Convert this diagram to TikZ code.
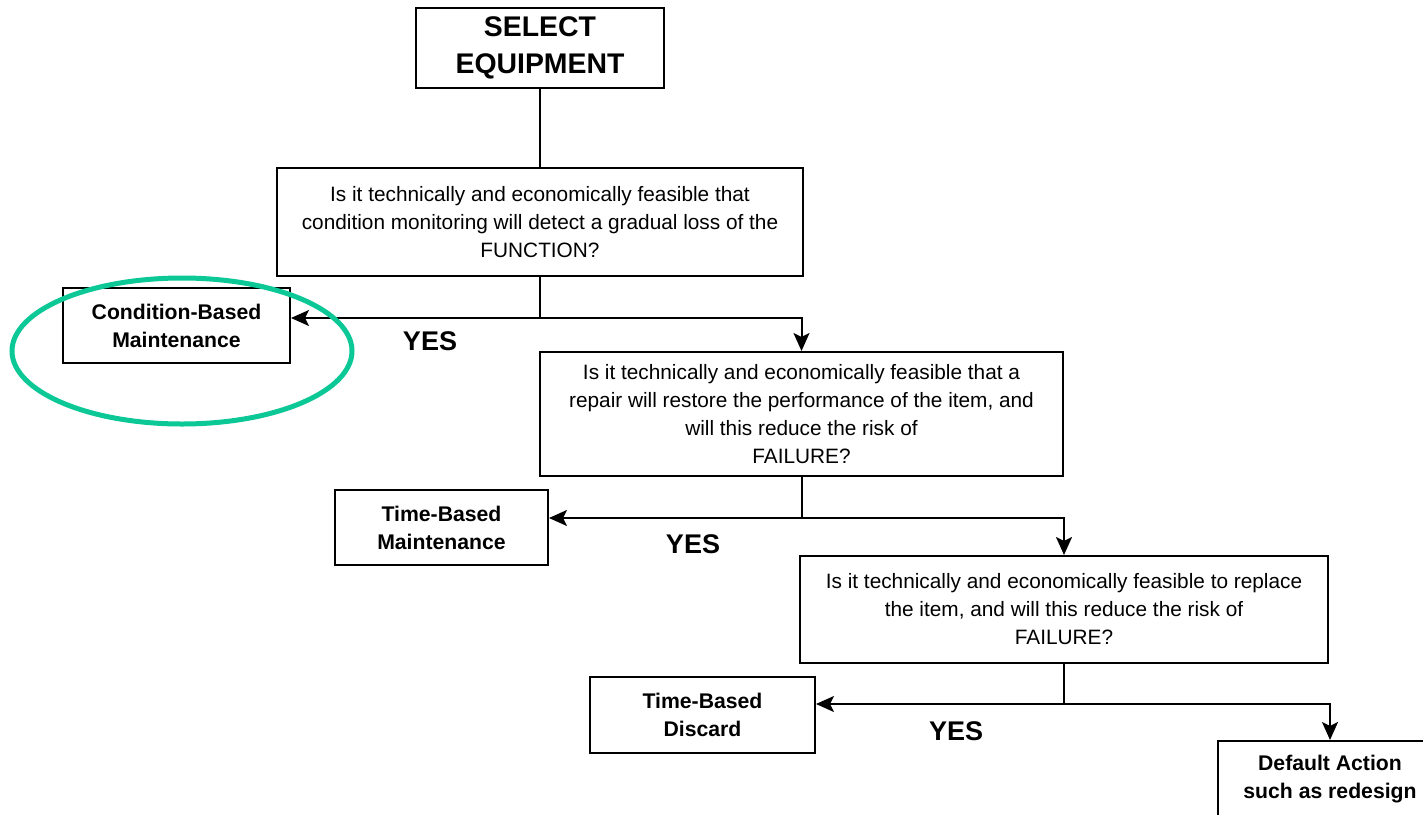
\documentclass[tikz,border=0pt]{standalone}
\usepackage{fontspec}
\setmainfont{Liberation Sans}
\usetikzlibrary{arrows.meta, positioning}
\definecolor{markgreen}{RGB}{12,200,150}
\tikzset{
  box/.style={rectangle, draw, line width=1pt, align=center, inner sep=0pt, fill=white},
  titlebox/.style={box, font=\fontsize{14.2}{18.5}\selectfont\bfseries},
  qbox/.style={box, font=\fontsize{10.4}{14}\selectfont},
  actbox/.style={box, font=\fontsize{10.6}{14}\selectfont\bfseries},
  yeslabel/.style={font=\fontsize{13.5}{16}\selectfont\bfseries},
  link/.style={line width=1pt},
  arrow/.style={-{Stealth[length=9pt, width=8pt, inset=2pt]}, line width=1pt},
  hilite/.style={draw=markgreen, line width=2.5pt},
}
\begin{document}
\begin{tikzpicture}[x=0.5pt, y=-0.5pt]
  \clip (0,0) rectangle (1423,814);
  \fill[white] (0,0) rectangle (1423,814);
  % boxes
  \node[titlebox, minimum width=124pt, minimum height=40pt]
    (select) at (540,48) {SELECT\\EQUIPMENT};
  \node[qbox, minimum width=263pt, minimum height=54pt]
    (monitor) at (540,222) {Is it technically and economically feasible that\\condition monitoring will detect a gradual loss of the\\FUNCTION?};
  \node[actbox, minimum width=113.5pt, minimum height=37.5pt]
    (cbm) at (176.5,325.5) {Condition-Based\\Maintenance};
  \node[qbox, minimum width=261.5pt, minimum height=62pt]
    (repair) at (801.5,414) {Is it technically and economically feasible that a\\repair will restore the performance of the item, and\\will this reduce the risk of\\FAILURE?};
  \node[actbox, minimum width=106.5pt, minimum height=37.5pt]
    (tbm) at (441.5,527.5) {Time-Based\\Maintenance};
  \node[qbox, minimum width=264pt, minimum height=53.5pt]
    (replace) at (1064,609.5) {Is it technically and economically feasible to replace\\the item, and will this reduce the risk of\\FAILURE?};
  \node[actbox, minimum width=112.5pt, minimum height=38pt]
    (tbd) at (702.5,715) {Time-Based\\Discard};
  \node[actbox, minimum width=112pt, minimum height=38pt]
    (default) at (1330,779) {Default Action\\such as redesign};
  % branch points
  \coordinate (split1) at (540,318);
  \coordinate (split2) at (801.5,518);
  \coordinate (split3) at (1064,704);
  % connectors
  \draw[link] (select) -- (monitor);
  \draw[link] (monitor) -- (split1);
  \draw[arrow] (split1) -- (split1 -| cbm.east);
  \draw[arrow] (split1) -| (repair.north);
  \draw[link] (repair) -- (split2);
  \draw[arrow] (split2) -- (split2 -| tbm.east);
  \draw[arrow] (split2) -| (replace.north);
  \draw[link] (replace) -- (split3);
  \draw[arrow] (split3) -- (split3 -| tbd.east);
  \draw[arrow] (split3) -| (default.north);
  % labels
  \node[yeslabel] (yes1) at (430,341) {YES};
  \node[yeslabel] (yes2) at (693,544) {YES};
  \node[yeslabel] (yes3) at (956,731) {YES};
  % highlight
  \draw[hilite] (182,351) ellipse [x radius=85pt, y radius=36.5pt];
\end{tikzpicture}
\end{document}
